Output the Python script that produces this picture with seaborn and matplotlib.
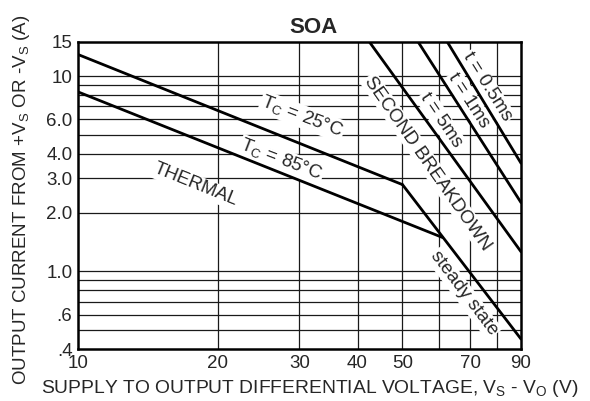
import matplotlib
matplotlib.use("Agg")
import matplotlib.pyplot as plt
import matplotlib.ticker as mticker
import seaborn as sns
import pandas as pd

# ---- data ----
x_tc25 = [10, 50]
y_tc25 = [12.9, 2.78]
x_tc85 = [10, 61]
y_tc85 = [8.3, 1.49]
x_steady = [50, 90]
y_steady = [2.78, 0.45]
x_5ms = [42.4, 90]
y_5ms = [15, 1.26]
x_1ms = [54, 90]
y_1ms = [15, 2.25]
x_05ms = [62.4, 90]
y_05ms = [15, 3.58]

x_ticks = [10, 20, 30, 40, 50, 70, 90]
x_ticklabels = ["10", "20", "30", "40", "50", "70", "90"]
x_grid = [20, 30, 40, 50, 60, 70, 80]
y_ticks = [0.4, 0.6, 1.0, 2.0, 3.0, 4.0, 6.0, 10, 15]
y_ticklabels = [".4", ".6", "1.0", "2.0", "3.0", "4.0", "6.0", "10", "15"]
y_grid = [0.5, 0.6, 0.7, 0.8, 0.9, 1, 2, 3, 4, 5, 6, 7, 8, 9, 10]

# labels: (text, x, y, rotation)
labels = [
    ("THERMAL", 17.9, 2.77, -22),
    ("T$_\\mathregular{C}$ = 25°C", 30.4, 6.2, -21),
    ("T$_\\mathregular{C}$ = 85°C", 27.4, 3.7, -21),
    ("SECOND BREAKDOWN", 56.7, 3.58, -55),
    ("t = 5ms", 60.5, 5.95, -56),
    ("t = 1ms", 69.5, 7.49, -57),
    ("t = 0.5ms", 76.0, 8.81, -58),
    ("steady state", 67.8, 0.77, -53),
]

sns.set_style("white")
plt.rcParams['font.family'] = ['Liberation Sans', 'DejaVu Sans']
plt.rcParams['mathtext.fontset'] = 'custom'
plt.rcParams['mathtext.rm'] = 'Liberation Sans'

fig = plt.figure(figsize=(5.9, 4.01), dpi=100)
ax = fig.add_axes([78/590, 1 - 349/401, (521-78)/590, (349-41.7)/401])
ax.set_xscale('log')
ax.set_yscale('log')

series = [(x_tc25, y_tc25), (x_tc85, y_tc85), (x_steady, y_steady),
          (x_5ms, y_5ms), (x_1ms, y_1ms), (x_05ms, y_05ms)]
for xs, ys in series:
    df = pd.DataFrame({"x": xs, "y": ys})
    sns.lineplot(data=df, x="x", y="y", ax=ax, color="black", linewidth=2.0,
                 zorder=5, estimator=None, sort=False)

ax.set_xlim(10, 90)
ax.set_ylim(0.4, 15)

ax.xaxis.set_major_locator(mticker.FixedLocator(x_ticks))
ax.xaxis.set_major_formatter(mticker.FixedFormatter(x_ticklabels))
ax.xaxis.set_minor_locator(mticker.NullLocator())
ax.yaxis.set_major_locator(mticker.FixedLocator(y_ticks))
ax.yaxis.set_major_formatter(mticker.FixedFormatter(y_ticklabels))
ax.yaxis.set_minor_locator(mticker.NullLocator())
ax.tick_params(length=0, labelsize=13.5, pad=4)
ax.tick_params(axis="x", pad=4)

for gx in x_grid:
    ax.axvline(gx, color="#1a1a1a", linewidth=0.9, zorder=1)
for gy in y_grid:
    ax.axhline(gy, color="#1a1a1a", linewidth=0.9, zorder=1)

for sp in ax.spines.values():
    sp.set_linewidth(1.8)
    sp.set_color("black")

for text, tx, ty, rot in labels:
    ax.text(tx, ty, text, rotation=rot, ha="center", va="center",
            fontsize=13.5, zorder=3, rotation_mode="anchor",
            bbox=dict(facecolor="white", edgecolor="none", pad=1.0))

ax.set_title("SOA", fontsize=16, fontweight="bold", pad=6.5, x=0.532)
ax.set_xlabel("SUPPLY TO OUTPUT DIFFERENTIAL VOLTAGE, V$_\\mathregular{S}$ - V$_\\mathregular{O}$ (V)",
              fontsize=13.9)
ax.set_ylabel("OUTPUT CURRENT FROM +V$_\\mathregular{S}$ OR -V$_\\mathregular{S}$ (A)",
              fontsize=13.5)
ax.xaxis.label.set_verticalalignment("center")
ax.yaxis.label.set_verticalalignment("center")
ax.xaxis.set_label_coords(0.524, -0.130)
ax.yaxis.set_label_coords(-0.1275, 0.485)

fig.canvas.draw()
xlabs = ax.get_xticklabels()
xlabs[0].set_horizontalalignment("center")

fig.savefig("out.png", dpi=100)
